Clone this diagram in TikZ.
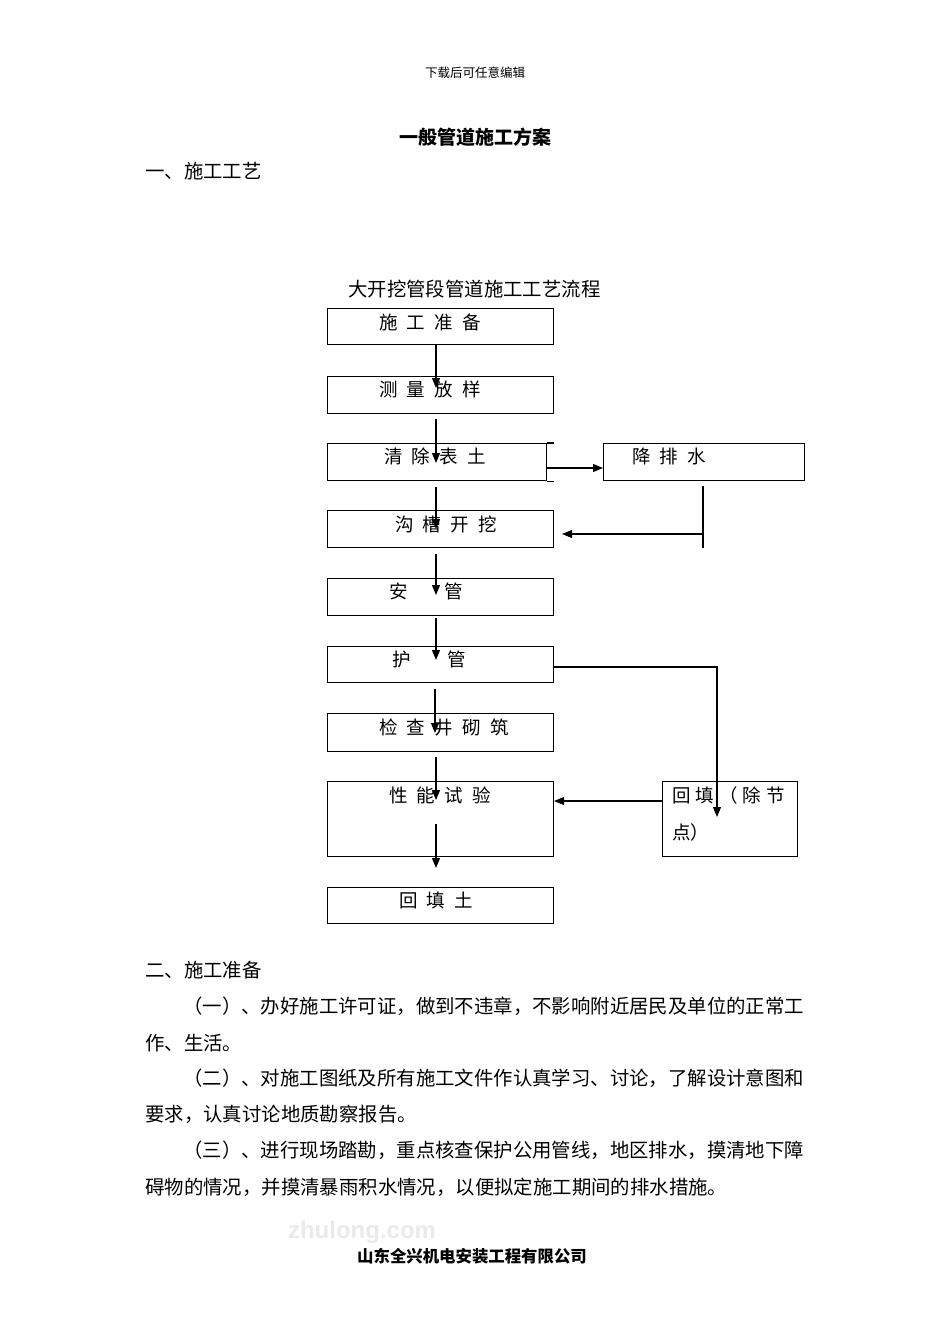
\documentclass[tikz,border=0pt]{standalone}
\usepackage{fontspec}
\setmainfont{Noto Sans CJK SC}
\newfontfamily\wmfont{Liberation Sans}
\usetikzlibrary{arrows.meta,calc}
\newcommand{\cjkgap}{\hspace{0.5em}}
\tikzset{
  box/.style={draw, line width=1.1pt, inner sep=0pt, anchor=north west},
  lbl/.style={anchor=west, inner sep=0pt, font=\fontsize{18.5}{20}\selectfont},
  arr/.style={line width=1.1pt, -{Triangle[length=10pt,width=8pt]}},
  ln/.style={line width=1.1pt},
  body/.style={anchor=west, inner sep=0pt, font=\fontsize{19.4}{22}\selectfont},
}
\begin{document}
\begin{tikzpicture}[x=1pt,y=-1pt]
\useasboundingbox[fill=white] (0,0) rectangle (950,1344);

% page texts
\node[inner sep=0pt, font=\fontsize{12.5}{14}\selectfont] (hdr) at (475,73) {下载后可任意编辑};
\node[inner sep=0pt, font=\fontsize{19}{22}\selectfont\bfseries] (title) at (475,137) {一般管道施工方案};
\node[body] (s1) at (145,171) {一、施工工艺};
\node[body] (cap) at (348,289) {大开挖管段管道施工工艺流程};

% boxes
\node[box, minimum width=226pt, minimum height=36pt] (b1) at (327,308) {};
\node[box, minimum width=226pt, minimum height=37pt] (b2) at (327,376) {};
\node[box, minimum width=219pt, minimum height=37pt] (b3) at (327,443) {};
\node[box, minimum width=201pt, minimum height=37pt] (b3r) at (603,443) {};
\node[box, minimum width=226pt, minimum height=37pt] (b4) at (327,510) {};
\node[box, minimum width=226pt, minimum height=37pt] (b5) at (327,578) {};
\node[box, minimum width=226pt, minimum height=36pt] (b6) at (327,646) {};
\node[box, minimum width=226pt, minimum height=38pt] (b7) at (327,713) {};
\node[box, minimum width=226pt, minimum height=75pt] (b8) at (327,781) {};
\node[box, minimum width=226pt, minimum height=36pt] (b9) at (327,887) {};
\node[box, minimum width=135pt, minimum height=75pt] (bh) at (662,781) {};

% box labels
\node[lbl] (t1) at (379,322) {施\cjkgap 工\cjkgap 准\cjkgap 备};
\node[lbl] (t2) at (379,389) {测\cjkgap 量\cjkgap 放\cjkgap 样};
\node[lbl] (t3) at (384,456) {清\cjkgap 除\cjkgap 表\cjkgap 土};
\node[lbl] (t3r) at (632,456) {降\cjkgap 排\cjkgap 水};
\node[lbl] (t4) at (395,524) {沟\cjkgap 槽\cjkgap 开\cjkgap 挖};
\node[lbl] (t5) at (389,591) {安\hspace{2em}管};
\node[lbl] (t6) at (392,659) {护\hspace{2em}管};
\node[lbl] (t7) at (379,727) {检\cjkgap 查\cjkgap 井\cjkgap 砌\cjkgap 筑};
\node[lbl] (t8) at (389,795) {性\cjkgap 能\cjkgap 试\cjkgap 验};
\node[lbl] (t9) at (399,900) {回\cjkgap 填\cjkgap 土};
\node[lbl] (th1) at (672,795) {回\hspace{0.27em}填\hspace{0.27em}（\hspace{0.27em}除\hspace{0.27em}节};
\node[lbl] (th2) at (672,832) {点）};

% connectors
\coordinate (ax) at (436,0);
\draw[arr] (ax |- b1.south) -- ($(ax |- b2.north)+(0,12)$);
\draw[arr] ($(ax |- b2.south)+(0,5)$) -- ($(ax |- b3.north)+(0,20)$);
\draw[arr] ($(ax |- b3.south)+(0,6)$) -- ($(ax |- b4.north)+(0,19)$);
\draw[arr] ($(ax |- b4.south)+(0,6)$) -- ($(ax |- b5.north)+(0,17)$);
\draw[arr] ($(ax |- b5.south)+(0,2)$) -- ($(ax |- b6.north)+(0,14)$);
\draw[arr] ($(ax |- b6.south)+(-1,6)$) -- ($(ax |- b7.north)+(-1,20)$);
\draw[arr] ($(ax |- b7.south)+(0,5)$) -- ($(ax |- b8.north)+(0,19)$);
\draw[arr] ($(ax |- b8.south)+(0,-33)$) -- ($(ax |- b9.north)+(0,-19)$);

\draw[ln] (b3.north east) -- ++(7,0);
\draw[ln] (b3.south east) -- ++(7,0);
\draw[arr] ($(b3.north east)+(0,25)$) -- ($(b3r.north west)+(0,25)$);

\coordinate (dv) at ($(b3r.south west)+(100,5)$);
\draw[ln] (dv) -- (dv |- b4.south);
\draw[arr] ($(dv |- b4.north)+(0,24)$) -- ($(b4.north east)+(8,24)$);

\draw[arr] ($(b6.north east)+(0,21)$) -| ($(bh.north west)+(55,36)$);
\draw[arr] ($(bh.north west)+(0,20)$) -- ($(b8.north east)+(0,20)$);

% section two
\node[body] (s2) at (145,970) {二、施工准备};
\node[body] (p1) at (183,1006) {（一）、办好施工许可证，做到不违章，不影响附近居民及单位的正常工};
\node[body] (p1b) at (145,1043) {作、生活。};
\node[body] (p2) at (183,1078) {（二）、对施工图纸及所有施工文件作认真学习、讨论，了解设计意图和};
\node[body] (p2b) at (145,1114) {要求，认真讨论地质勘察报告。};
\node[body] (p3) at (183,1150) {（三）、进行现场踏勘，重点核查保护公用管线，地区排水，摸清地下障};
\node[body] (p3b) at (145,1187) {碍物的情况，并摸清暴雨积水情况，以便拟定施工期间的排水措施。};

\node[inner sep=0pt, text=blue!8!gray!15, font=\wmfont\bfseries\fontsize{24}{26}\selectfont] (wm) at (362,1232) {zhulong.com};
\node[inner sep=0pt, font=\fontsize{16.4}{18}\selectfont\bfseries] (foot) at (472,1256) {山东全兴机电安装工程有限公司};
\end{tikzpicture}
\end{document}
